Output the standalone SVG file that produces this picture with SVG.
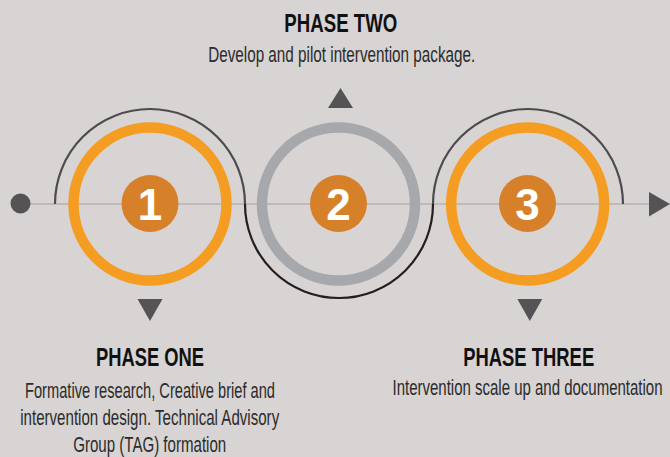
<svg xmlns="http://www.w3.org/2000/svg" width="670" height="457" viewBox="0 0 670 457">
  <style>
    .hdr { font-family: "Liberation Sans", Arial, sans-serif; font-weight: bold; font-size: 25px; fill: #111111; text-anchor: middle; }
    .body { font-family: "Liberation Sans", Arial, sans-serif; font-size: 21.5px; fill: #2b2b2b; text-anchor: middle; }
    .num { font-family: "Liberation Sans", Arial, sans-serif; font-weight: bold; font-size: 44px; fill: #ffffff; text-anchor: middle; }
    .ring-o { fill: none; stroke: #f49d22; stroke-width: 10.5; }
    .ring-g { fill: none; stroke: #a7a8ab; stroke-width: 10.5; }
    .badge { fill: #d6812a; }
    .tri { fill: #555355; }
  </style>
  <rect width="670" height="457" fill="#d8d4d3"/>

  <g id="connectors">
    <line x1="20" y1="204" x2="652" y2="204" stroke="#a3a1a2" stroke-width="1"/>
    <circle cx="20.5" cy="203.5" r="10" fill="#555355"/>
    <polygon points="649,192 670,204 649,216.5" fill="#555355"/>
    <path d="M55,204 A95,95 0 0 1 245,204" fill="none" stroke="#4d4b4d" stroke-width="2.2"/>
    <path d="M245,204 A94,94 0 0 0 433,204" fill="none" stroke="#231f20" stroke-width="2.2"/>
    <path d="M433,204 A95,95 0 0 1 623,204" fill="none" stroke="#4d4b4d" stroke-width="2.2"/>
  </g>

  <g id="phase1">
    <circle class="ring-o" cx="150" cy="204" r="76.5"/>
    <circle class="badge" cx="150" cy="203.5" r="28.5"/>
    <text class="num" x="150" y="220">1</text>
    <polygon class="tri" points="137.5,299 162.5,299 150,321"/>
    <text class="hdr" x="150" y="366" textLength="108" lengthAdjust="spacingAndGlyphs">PHASE ONE</text>
    <text class="body" x="150" y="398" textLength="250" lengthAdjust="spacingAndGlyphs">Formative research, Creative brief and</text>
    <text class="body" x="149.7" y="425" textLength="259" lengthAdjust="spacingAndGlyphs">intervention design. Technical Advisory</text>
    <text class="body" x="149.7" y="452" textLength="153" lengthAdjust="spacingAndGlyphs">Group (TAG) formation</text>
  </g>

  <g id="phase2">
    <circle class="ring-g" cx="338.5" cy="204" r="76.5"/>
    <circle class="badge" cx="338.5" cy="203.5" r="28.5"/>
    <text class="num" x="338.5" y="220">2</text>
    <polygon class="tri" points="328,108 353,108 340.5,88"/>
    <text class="hdr" x="340.8" y="32" textLength="113" lengthAdjust="spacingAndGlyphs">PHASE TWO</text>
    <text class="body" x="341.7" y="61.5" textLength="267" lengthAdjust="spacingAndGlyphs">Develop and pilot intervention package.</text>
  </g>

  <g id="phase3">
    <circle class="ring-o" cx="527.7" cy="204" r="76.5"/>
    <circle class="badge" cx="527.5" cy="203.5" r="28.5"/>
    <text class="num" x="527.5" y="220">3</text>
    <polygon class="tri" points="517.3,299 542.3,299 529.8,321"/>
    <text class="hdr" x="528.7" y="366" textLength="131" lengthAdjust="spacingAndGlyphs">PHASE THREE</text>
    <text class="body" transform="translate(527.5,395) scale(0.7,1)" x="0" y="0" textLength="385.7" lengthAdjust="spacingAndGlyphs">Intervention scale up and documentation</text>
  </g>
</svg>
